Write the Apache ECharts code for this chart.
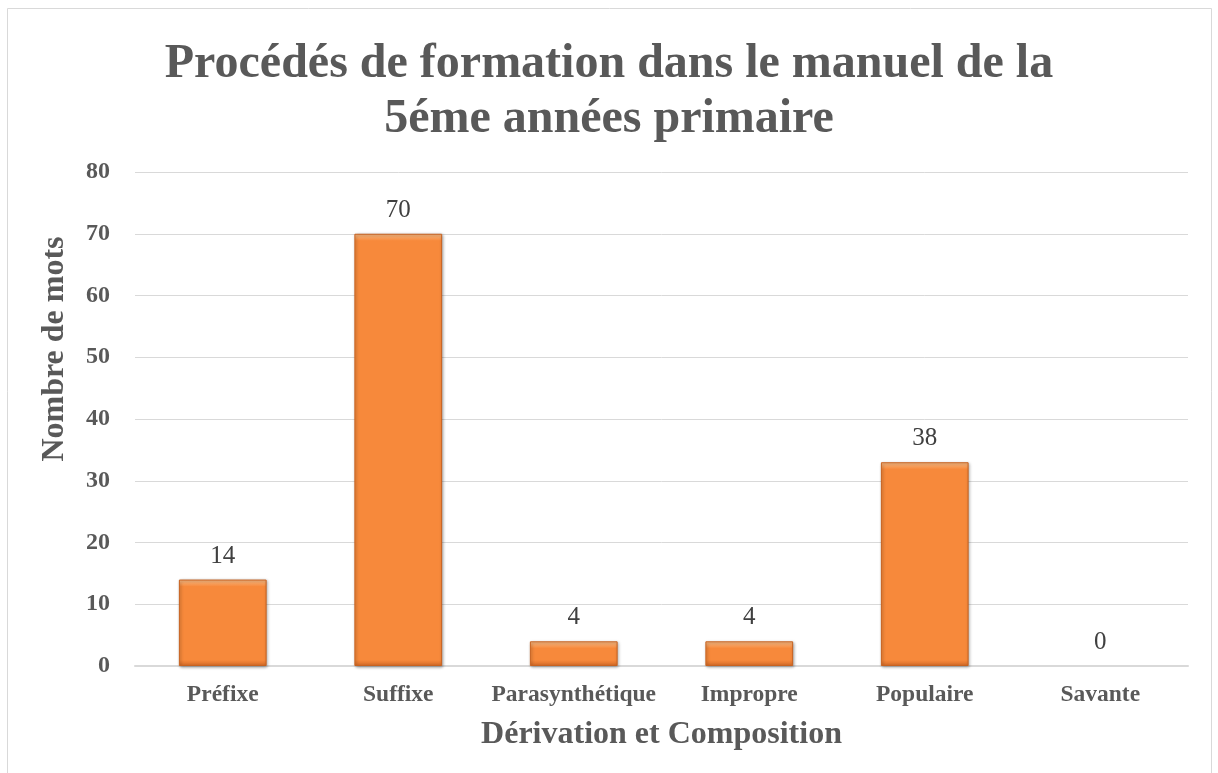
<!DOCTYPE html>
<html>
<head>
<meta charset="utf-8">
<script src="https://cdn.jsdelivr.net/npm/echarts@6/dist/echarts.min.js"></script>
<style>
  html, body { margin: 0; padding: 0; background: #fff; }
  #chart { width: 1218px; height: 773px; }
</style>
</head>
<body>
<div id="chart"></div>
<script>
// categories and values
const categories = ['Préfixe', 'Suffixe', 'Parasynthétique', 'Impropre', 'Populaire', 'Savante']
// bar heights as drawn (the "Populaire" bar stops near 33 though its label says 38)
const barValues = [14, 70, 4, 4, 33, 0]
const labelTexts = ['14', '70', '4', '4', '38', '0']
const yTicks = [0, 10, 20, 30, 40, 50, 60, 70, 80]

const chartDom = document.getElementById('chart')
const myChart = echarts.init(chartDom)

const grey = '#595959'
const serif = '"Liberation Serif", "Times New Roman", serif'
const plotHeight = 773 - 172 - 107

// bevel look: light band at the top, darker band at the bottom (about 7px each)
const barStyle = (v) => {
  const h = Math.max(v * plotHeight / 80, 1)
  const t = Math.min(7 / h, 0.3)
  const b = Math.min(6 / h, 0.3)
  if (v === 0) {
    return { opacity: 0 }
  }
  return {
    color: {
      type: 'linear',
      x: 0, y: 0, x2: 0, y2: 1,
      colorStops: [
        { offset: 0, color: '#fcc08a' },
        { offset: t, color: '#f7893b' },
        { offset: 1 - b, color: '#f7893b' },
        { offset: 1, color: '#d46a26' },
      ],
    },
  }
}

const option = {
  backgroundColor: '#fff',
  textStyle: { fontFamily: serif },
  graphic: [
    {
      type: 'rect',
      shape: { x: 7.5, y: 8.5, width: 1204, height: 800 },
      style: { fill: 'none', stroke: '#d9d9d9', lineWidth: 1 },
      silent: true,
    },
  ],
  title: {
    text: 'Procédés de formation dans le manuel de la\n5éme années primaire',
    left: 'center',
    top: 32,
    textStyle: {
      fontFamily: serif,
      fontWeight: 'bold',
      fontSize: 48,
      lineHeight: 55,
      color: grey,
    },
  },
  grid: {
    left: 135,
    right: 30,
    top: 172,
    bottom: 107,
  },
  xAxis: {
    type: 'category',
    data: categories,
    name: 'Dérivation et Composition',
    nameLocation: 'middle',
    nameGap: 53,
    nameTextStyle: {
      fontFamily: serif,
      fontWeight: 'bold',
      fontSize: 32,
      color: grey,
    },
    axisLine: { lineStyle: { color: '#d9d9d9', width: 2 } },
    axisTick: { show: false },
    axisLabel: {
      fontFamily: serif,
      fontWeight: 'bold',
      fontSize: 23.5,
      color: grey,
      margin: 17,
      interval: 0,
    },
  },
  yAxis: {
    type: 'value',
    min: 0,
    max: 80,
    interval: 10,
    name: 'Nombre de mots',
    nameLocation: 'middle',
    nameGap: 64,
    nameTextStyle: {
      fontFamily: serif,
      fontWeight: 'bold',
      fontSize: 32,
      color: grey,
      padding: [0, 0, 0, 140],
    },
    axisLine: { show: false },
    axisTick: { show: false },
    axisLabel: {
      fontFamily: serif,
      fontWeight: 'bold',
      fontSize: 24,
      color: grey,
      margin: 25,
      formatter: (v) => (yTicks.includes(v) ? String(v) : ''),
    },
    splitLine: { lineStyle: { color: '#d9d9d9', width: 1 } },
  },
  series: [
    {
      type: 'bar',
      data: barValues.map((v) => ({ value: v, itemStyle: barStyle(v) })),
      barWidth: '50%',
      itemStyle: {
        borderColor: '#c8621f',
        borderWidth: 1,
        shadowColor: 'rgba(0,0,0,0.35)',
        shadowBlur: 3,
        shadowOffsetX: 1,
        shadowOffsetY: 1,
      },
      label: {
        show: true,
        position: 'top',
        distance: 11,
        fontFamily: serif,
        fontSize: 25,
        color: '#404040',
        opacity: 1,
        formatter: (p) => labelTexts[p.dataIndex],
      },
    },
  ],
}

myChart.setOption(option)
</script>
</body>
</html>
